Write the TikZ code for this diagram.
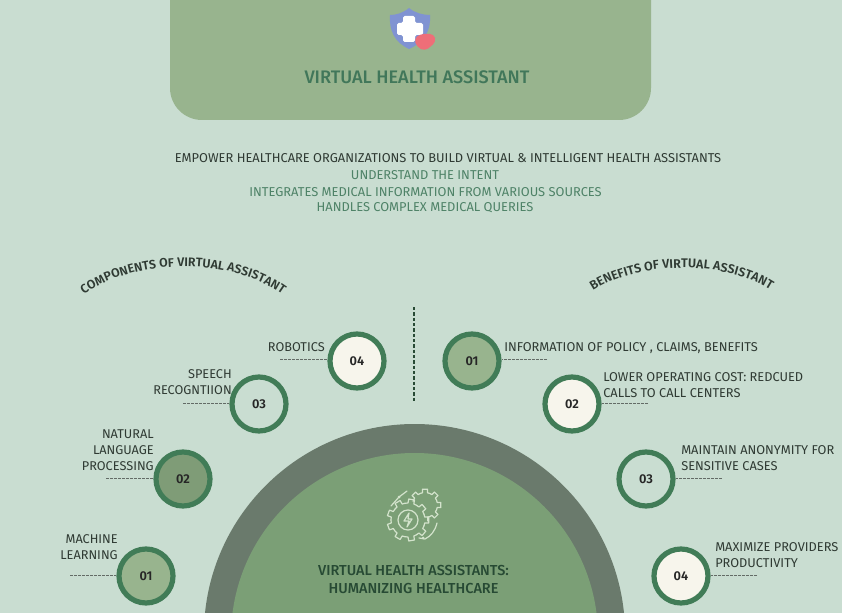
\documentclass[tikz,border=0pt]{standalone}
\usepackage{fontspec}
\setmainfont{Fira Sans}
\newfontfamily\semifont{Fira Sans Medium}
\newfontfamily\heavyfont{Fira Sans SemiBold}
\usetikzlibrary{decorations.text}
\definecolor{bgmint}{HTML}{C9DDD1}
\definecolor{topgreen}{HTML}{98B48E}
\definecolor{midgreen}{HTML}{7F9C77}
\definecolor{ringgreen}{HTML}{417C57}
\definecolor{titlegreen}{HTML}{41775A}
\definecolor{tealtext}{HTML}{4E8267}
\definecolor{inktext}{HTML}{2F3A33}
\definecolor{cream}{HTML}{F7F5EC}
\definecolor{greyarc}{HTML}{6A7A6C}
\definecolor{coregreen}{HTML}{7B9F76}
\definecolor{iconline}{HTML}{D3E3CC}
\definecolor{shieldblue}{HTML}{8093D2}
\definecolor{heartpink}{HTML}{EE6E78}
\tikzset{
  x=0.75pt,y=-0.75pt,
  badge/.style={circle,draw=ringgreen,line width=3.9pt,minimum size=40.5pt,inner sep=0pt,font=\fontsize{9.6}{11}\selectfont\heavyfont,text=black!85},
  lefttag/.style={anchor=east,align=right,text=inktext,inner sep=0pt,font=\fontsize{9.55}{12.2}\selectfont},
  righttag/.style={anchor=west,align=left,text=inktext,inner sep=0pt,font=\fontsize{9.6}{12.2}\selectfont},
  tick/.style={draw=inktext!75,line width=0.5pt,dash pattern=on 2.25pt off 0.75pt},
  midline/.style={font=\fontsize{9.65}{11}\selectfont,inner sep=0pt},
  gearline/.style={draw=iconline,line width=0.9pt,line join=round,line cap=round},
}
\newcommand{\gearshape}[5]{% cx cy outer inner teeth
  \pgfmathsetmacro{\stepang}{360/#5}
  \foreach \k in {1,...,#5}{
    \pgfmathsetmacro{\ang}{\k*\stepang}
    \draw[gearline]
      ({#1+#4*cos(\ang-0.5*\stepang)},{#2+#4*sin(\ang-0.5*\stepang)}) --
      ({#1+#4*cos(\ang-0.25*\stepang)},{#2+#4*sin(\ang-0.25*\stepang)}) --
      ({#1+#3*cos(\ang-0.2*\stepang)},{#2+#3*sin(\ang-0.2*\stepang)}) --
      ({#1+#3*cos(\ang+0.2*\stepang)},{#2+#3*sin(\ang+0.2*\stepang)}) --
      ({#1+#4*cos(\ang+0.25*\stepang)},{#2+#4*sin(\ang+0.25*\stepang)}) --
      ({#1+#4*cos(\ang+0.5*\stepang)},{#2+#4*sin(\ang+0.5*\stepang)});
  }
}
\begin{document}
\begin{tikzpicture}
\useasboundingbox (0,0) rectangle (842,613);
\fill[bgmint] (0,0) rectangle (842,613);
% top panel
\fill[topgreen] (170,-40) [rounded corners=24pt] -- (170,120) -- (651,120) -- (651,-40) -- cycle;
% shield icon
\fill[shieldblue] (409,8) .. controls (415,13) and (423,15) .. (430,15)
  .. controls (431,30) and (425,42) .. (409,49)
  .. controls (394,42) and (389,30) .. (390,15)
  .. controls (396,15) and (403,13) .. (409,8) -- cycle;
\fill[white,rounded corners=1.2pt] (403,16) -- (415,16) -- (415,23) -- (423,23) -- (423,35) -- (415,35) -- (415,42) -- (403,42) -- (403,35) -- (397,35) -- (397,23) -- (403,23) -- cycle;
\fill[heartpink,rounded corners=3pt] (414,39) -- (420,34) -- (434,34) -- (436,42) -- (425,51) -- (417,47) -- cycle;
\node[font=\fontsize{13.6}{15}\selectfont\semifont,text=titlegreen,inner sep=0pt] (maintitle) at (417,77) {VIRTUAL HEALTH ASSISTANT};
% intro
\node[midline,text=inktext] (intro1) at (448,158.5) {EMPOWER HEALTHCARE ORGANIZATIONS TO BUILD VIRTUAL \& INTELLIGENT HEALTH ASSISTANTS};
\node[midline,text=tealtext] (intro2) at (425,175.5) {UNDERSTAND THE INTENT};
\node[midline,text=tealtext] (intro3) at (425.5,192) {INTEGRATES MEDICAL INFORMATION FROM VARIOUS SOURCES};
\node[midline,text=tealtext] (intro4) at (425,208) {HANDLES COMPLEX MEDICAL QUERIES};
% curved headings
\path[decorate,decoration={text along path,text align=center,text color=inktext,
  text={|\fontsize{9.3}{11}\selectfont\heavyfont|COMPONENTS OF VIRTUAL ASSISTANT}}]
  (79,298) .. controls (130,257) and (234,255) .. (287,298);
\path[decorate,decoration={text along path,text align=center,text color=inktext,
  text={|\fontsize{9.4}{11}\selectfont\heavyfont|BENEFITS OF VIRTUAL ASSISTANT}}]
  (587,295) .. controls (635,259) and (730,259) .. (776,294);
% divider
\draw[ringgreen!60!black,line width=2.1pt,dash pattern=on 2.4pt off 1.6pt] (414,307) -- (414,402);
% hub
\begin{scope}
\clip (0,0) rectangle (842,613);
\fill[greyarc] (414.5,634.6) circle (210.6);
\fill[coregreen] (414.5,636.5) circle (183.5);
\end{scope}
% gear icon
\gearshape{425}{505}{16}{12.5}{8}
\fill[coregreen] (408,520) circle (19);
\fill[coregreen] (420,511) circle (7);
\gearshape{408}{520}{21}{17}{9}
\draw[gearline] (408,520) circle (10);
\draw[gearline] (409,513) -- (404,521) -- (409,521) -- (407,527) -- (412,519) -- (408,519) -- cycle;
\draw[gearline] (391,506) -- (399,497) -- (407,491);
\draw[gearline] (437,523) .. controls (435,531) and (431,536) .. (425,539) -- (419,538);
\fill[iconline] (399,497) circle (1.5) (423,538) circle (1.5);
\node[font=\fontsize{10.85}{13.5}\selectfont\semifont,text=ringgreen!60!black,align=center,inner sep=0pt] (hubtext) at (413.5,579) {VIRTUAL HEALTH ASSISTANTS:\\HUMANIZING HEALTHCARE};
% badges
\node[badge,fill=cream] (l4) at (357,361) {04};
\node[badge,fill=bgmint] (l3) at (259,404) {03};
\node[badge,fill=midgreen] (l2) at (183,479) {02};
\node[badge,fill=topgreen] (l1) at (146,576) {01};
\node[badge,fill=topgreen] (r1) at (472,361) {01};
\node[badge,fill=cream] (r2) at (572,404) {02};
\node[badge,fill=bgmint] (r3) at (646,479) {03};
\node[badge,fill=cream] (r4) at (681,576) {04};
% labels
\node[lefttag] (tl4) at (325,347) {ROBOTICS};
\node[lefttag] (tl3) at (232,382) {SPEECH\\RECOGNTIION};
\node[lefttag] (tl2) at (154,450) {NATURAL\\LANGUAGE\\PROCESSING};
\node[lefttag] (tl1) at (118,547) {MACHINE\\LEARNING};
\node[righttag] (tr1) at (504,348) {INFORMATION OF POLICY , CLAIMS, BENEFITS};
\node[righttag] (tr2) at (603,385) {LOWER OPERATING COST: REDCUED\\CALLS TO CALL CENTERS};
\node[righttag] (tr3) at (681,458) {MAINTAIN ANONYMITY FOR\\SENSITIVE CASES};
\node[righttag] (tr4) at (715,555) {MAXIMIZE PROVIDERS\\PRODUCTIVITY};
% ticks
\coordinate (dl4) at (280,359); \coordinate (dl3) at (183,403);
\coordinate (dl2) at (106,478); \coordinate (dl1) at (70,575);
\coordinate (dr1) at (547,359); \coordinate (dr2) at (648,403);
\coordinate (dr3) at (722,478); \coordinate (dr4) at (757,575);
\draw[tick] (dl4) -- (dl4 -| l4.west);
\draw[tick] (dl3) -- (dl3 -| l3.west);
\draw[tick] (dl2) -- (dl2 -| l2.west);
\draw[tick] (dl1) -- (dl1 -| l1.west);
\draw[tick] (dr1) -- (dr1 -| r1.east);
\draw[tick] (dr2) -- (dr2 -| r2.east);
\draw[tick] (dr3) -- (dr3 -| r3.east);
\draw[tick] (dr4) -- (dr4 -| r4.east);
\end{tikzpicture}
\end{document}
